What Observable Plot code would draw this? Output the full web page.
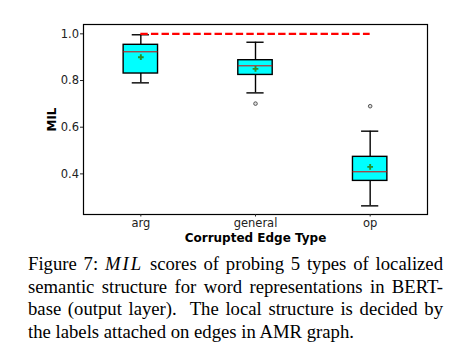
<!DOCTYPE html>
<html>
<head>
<meta charset="utf-8">
<script src="https://cdn.jsdelivr.net/npm/d3@7"></script>
<script src="https://cdn.jsdelivr.net/npm/@observablehq/plot@0.6"></script>
<style>
  html, body { margin: 0; padding: 0; background: #fff; }
  #wrap { width: 471px; }
  #caption { margin: 5px 0 0 28px; width: 415px; font-family: "Liberation Serif", "Times New Roman", serif; font-size: 18.7px; line-height: 22.5px; color: #000; }
  #caption div { text-align: justify; text-align-last: justify; white-space: nowrap; }
  #caption div.last { text-align-last: left; }
  #caption i { letter-spacing: 2px; }
</style>
</head>
<body>
<div id="wrap">
  <div id="chart"></div>
  <div id="caption">
    <div>Figure 7: <i>MIL</i> scores of probing 5 types of localized</div>
    <div>semantic structure for word representations in BERT-</div>
    <div>base (output layer).&nbsp; The local structure is decided by</div>
    <div class="last">the labels attached on edges in AMR graph.</div>
  </div>
</div>
<script>
const categories = ["arg", "general", "op"];
const whiskerLow = [0.790, 0.747, 0.263];
const q1 = [0.830, 0.824, 0.370];
const median = [0.923, 0.863, 0.409];
const q3 = [0.953, 0.887, 0.473];
const whiskerHigh = [0.996, 0.964, 0.583];
const means = [0.900, 0.850, 0.430];
const outlierCategory = ["general", "op"];
const outlierValue = [0.701, 0.690];
const referenceLevel = 1.0;
const yTicks = [0.4, 0.6, 0.8, 1.0];

const rows = categories.map((c, i) => ({
  cat: c, pos: i + 1,
  lo: whiskerLow[i], q1: q1[i], med: median[i], q3: q3[i], hi: whiskerHigh[i], mean: means[i]
}));
const outliers = outlierCategory.map((c, i) => ({pos: categories.indexOf(c) + 1, v: outlierValue[i]}));
const half = 0.15, capHalf = 0.075;

const chart = Plot.plot({
  width: 471,
  height: 248,
  marginTop: 24,
  marginBottom: 34,
  marginLeft: 83,
  marginRight: 44,
  style: {fontFamily: "DejaVu Sans, sans-serif", fontSize: "11.5px", color: "#222", background: "#fff"},
  x: {type: "linear", domain: [0.5, 3.5]},
  y: {domain: [0.226, 1.04]},
  marks: [
    Plot.ruleX(rows, {x: "pos", y1: "lo", y2: "q1", stroke: "black", strokeWidth: 1.4}),
    Plot.ruleX(rows, {x: "pos", y1: "q3", y2: "hi", stroke: "black", strokeWidth: 1.4}),
    Plot.ruleY(rows, {y: "lo", x1: d => d.pos - capHalf, x2: d => d.pos + capHalf, stroke: "black", strokeWidth: 1.4}),
    Plot.ruleY(rows, {y: "hi", x1: d => d.pos - capHalf, x2: d => d.pos + capHalf, stroke: "black", strokeWidth: 1.4}),
    Plot.rect(rows, {x1: d => d.pos - half, x2: d => d.pos + half, y1: "q1", y2: "q3", fill: "#00ffff", stroke: "black", strokeWidth: 1.4}),
    Plot.ruleY(rows, {y: "med", x1: d => d.pos - half, x2: d => d.pos + half, stroke: "#e00000", strokeWidth: 1}),
    Plot.dot(rows, {x: "pos", y: "mean", symbol: "cross", r: 2.4, fill: "#2a8f2a", stroke: null}),
    Plot.dot(outliers, {x: "pos", y: "v", r: 1.8, stroke: "#555", strokeWidth: 1, fill: "#ddd"}),
    Plot.ruleY([referenceLevel], {x1: 1, x2: 3, stroke: "#ff0000", strokeWidth: 2.2, strokeDasharray: "7.4,3.2"}),
    Plot.frame({stroke: "black", strokeWidth: 1.2}),
    Plot.axisY({ticks: yTicks, tickFormat: d3.format(".1f"), tickSize: 3, tickPadding: 1.5, label: "MIL", labelAnchor: "center", labelOffset: 36, labelArrow: "none"}),
    Plot.axisX({ticks: [1, 2, 3], tickFormat: d => categories[d - 1], tickSize: 2.5, tickPadding: 2, label: "Corrupted Edge Type", labelAnchor: "center", labelOffset: 27, labelArrow: "none"})
  ]
});
chart.querySelectorAll('[aria-label="x-axis label"], [aria-label="y-axis label"]').forEach(g => {
  g.setAttribute("font-weight", "bold");
  g.setAttribute("fill", "#000");
  g.setAttribute("font-size", "12px");
});
document.getElementById("chart").appendChild(chart);
</script>
</body>
</html>
